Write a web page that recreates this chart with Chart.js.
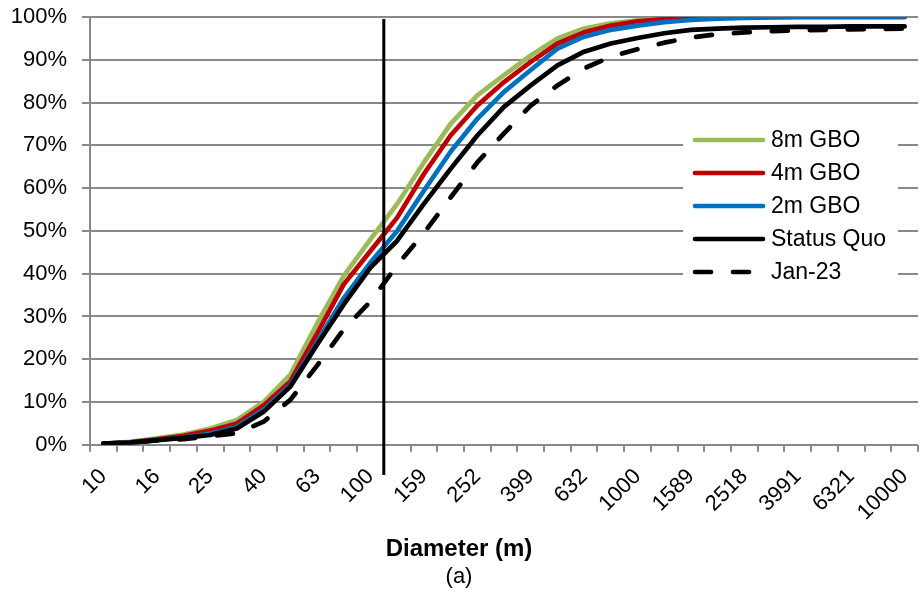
<!DOCTYPE html>
<html>
<head>
<meta charset="utf-8">
<script src="https://cdn.jsdelivr.net/npm/chart.js@4.4.1/dist/chart.umd.min.js"></script>
<style>
  html, body { margin: 0; padding: 0; background: #fff; }
</style>
</head>
<body>
<canvas id="myChart" width="920" height="598"></canvas>
<script>
// bin diameters (m), only every second one is labelled on the axis
var diameters = ['10', '13', '16', '20', '25', '32', '40', '50', '63', '79', '100',
    '126', '159', '200', '252', '317', '399', '502', '632', '796', '1000',
    '1262', '1589', '2003', '2518', '3174', '3991', '5024', '6321', '7962', '10000'];

// cumulative share (%)
var gbo8m = [0.3, 0.7, 1.5, 2.4, 3.8, 5.8, 10, 16.4, 28.3, 39.5, 48, 56.3, 66, 75, 81.7,
    86.4, 91, 95, 97.3, 98.5, 99.2, 99.6, 99.8, 99.9, 100, 100, 100, 100, 100, 100, 100];
var gbo4m = [0.3, 0.6, 1.3, 2.1, 3.3, 5, 9.2, 14.8, 26, 37.5, 45.3, 53.1, 63.3, 72.3, 79.3,
    84.8, 89.5, 93.8, 96.4, 98, 99, 99.5, 99.8, 99.9, 100, 100, 100, 100, 100, 100, 100];
var gbo2m = [0.2, 0.5, 1.1, 1.7, 2.6, 4.2, 8.2, 14, 24, 34.3, 42.6, 50, 59.4, 68.5, 76.2,
    82.5, 87.6, 92.6, 95.4, 97, 98, 98.8, 99.3, 99.6, 99.8, 99.9, 100, 100, 100, 100, 100];
var statusQuo = [0.3, 0.5, 1.1, 1.6, 2.3, 3.8, 7.7, 13.6, 23.4, 32.8, 41.4, 47.7, 56.3, 64.5, 72.3,
    79, 84, 88.7, 91.9, 93.8, 95.1, 96.2, 97, 97.3, 97.5, 97.6, 97.7, 97.7, 97.8, 97.8, 97.8];
var jan23 = [0.3, 0.5, 1, 1.3, 2, 2.7, 5.4, 10.5, 18.5, 27, 33.5, 42, 49.5, 57.8, 66,
    72.8, 79.3, 84, 88, 90.7, 92.5, 94, 95.2, 96, 96.4, 96.7, 96.9, 97, 97.1, 97.2, 97.3];

// vertical marker sits between the 100 and 126 bins
var markerAt = 10.5;

var FONT = "'Liberation Sans', Arial, sans-serif";

var overlay = {
    id: 'overlay',
    afterDatasetsDraw: function(chart) {
        var ctx = chart.ctx;
        var x = chart.scales.x.getPixelForValue(markerAt);
        ctx.save();
        ctx.strokeStyle = '#000';
        ctx.lineWidth = 3;
        ctx.beginPath();
        ctx.moveTo(x, 19);
        ctx.lineTo(x, 475);
        ctx.stroke();

        // legend box
        ctx.fillStyle = '#fff';
        ctx.fillRect(683, 122, 215, 168);
        ctx.font = '23px ' + FONT;
        ctx.textBaseline = 'middle';
        chart.data.datasets.forEach(function(ds, i) {
            var y = 140 + i * 33;
            ctx.strokeStyle = ds.borderColor;
            ctx.lineWidth = ds.borderWidth;
            ctx.lineCap = 'round';
            ctx.setLineDash(ds.borderDash || []);
            ctx.beginPath();
            ctx.moveTo(695, y);
            ctx.lineTo(763, y);
            ctx.stroke();
            ctx.setLineDash([]);
            ctx.fillStyle = '#000';
            ctx.fillText(ds.label, 771, y + 1);
        });
        ctx.restore();
    }
};

function series(label, data, color, order, dash) {
    return {
        label: label,
        data: data,
        borderColor: color,
        backgroundColor: color,
        borderWidth: 4.7,
        borderDash: dash,
        borderCapStyle: 'round',
        borderJoinStyle: 'round',
        pointRadius: 0,
        tension: 0,
        order: order
    };
}

var ctx = document.getElementById('myChart').getContext('2d');
var chart = new Chart(ctx, {
    type: 'line',
    data: {
        labels: diameters,
        datasets: [
            series('8m GBO', gbo8m, '#9BBB59', 5),
            series('4m GBO', gbo4m, '#C00000', 4),
            series('2m GBO', gbo2m, '#0070C0', 3),
            series('Status Quo', statusQuo, '#000000', 2),
            series('Jan-23', jan23, '#000000', 1, [16, 22])
        ]
    },
    options: {
        responsive: false,
        animation: false,
        layout: { padding: { top: 17, right: 2, left: 0, bottom: 0 } },
        plugins: {
            legend: { display: false },
            tooltip: { enabled: false },
            title: {
                display: true,
                position: 'bottom',
                text: 'Diameter (m)',
                color: '#000',
                weight: 1000,
                font: { family: FONT, size: 24, weight: 'bold' },
                padding: { top: 0, bottom: 0 }
            },
            subtitle: {
                display: true,
                position: 'bottom',
                text: '(a)',
                color: '#000',
                weight: 2000,
                font: { family: FONT, size: 22 },
                padding: { top: 0, bottom: 8 }
            }
        },
        scales: {
            x: {
                offset: true,
                grid: {
                    offset: true,
                    drawOnChartArea: false,
                    drawTicks: true,
                    tickLength: 7,
                    color: '#888',
                    lineWidth: 2
                },
                border: { display: false },
                ticks: {
                    autoSkip: false,
                    minRotation: 45,
                    maxRotation: 45,
                    padding: 12,
                    color: '#000',
                    font: { family: FONT, size: 22 },
                    callback: function(val, i) {
                        return i % 2 === 0 ? diameters[i] : '';
                    }
                },
                afterFit: function(scale) {
                    scale.height = 90;
                    scale.paddingLeft = 0;
                    scale.paddingRight = 0;
                }
            },
            y: {
                min: 0,
                max: 100,
                grid: {
                    color: '#888',
                    lineWidth: 2,
                    tickLength: 8
                },
                border: { color: '#888', width: 2 },
                ticks: {
                    stepSize: 10,
                    padding: 15,
                    color: '#000',
                    font: { family: FONT, size: 22 },
                    callback: function(v) { return v + '%'; }
                },
                afterFit: function(scale) {
                    scale.width = 90;
                    scale.paddingTop = 0;
                    scale.paddingBottom = 0;
                }
            }
        }
    },
    plugins: [overlay]
});
</script>
</body>
</html>
